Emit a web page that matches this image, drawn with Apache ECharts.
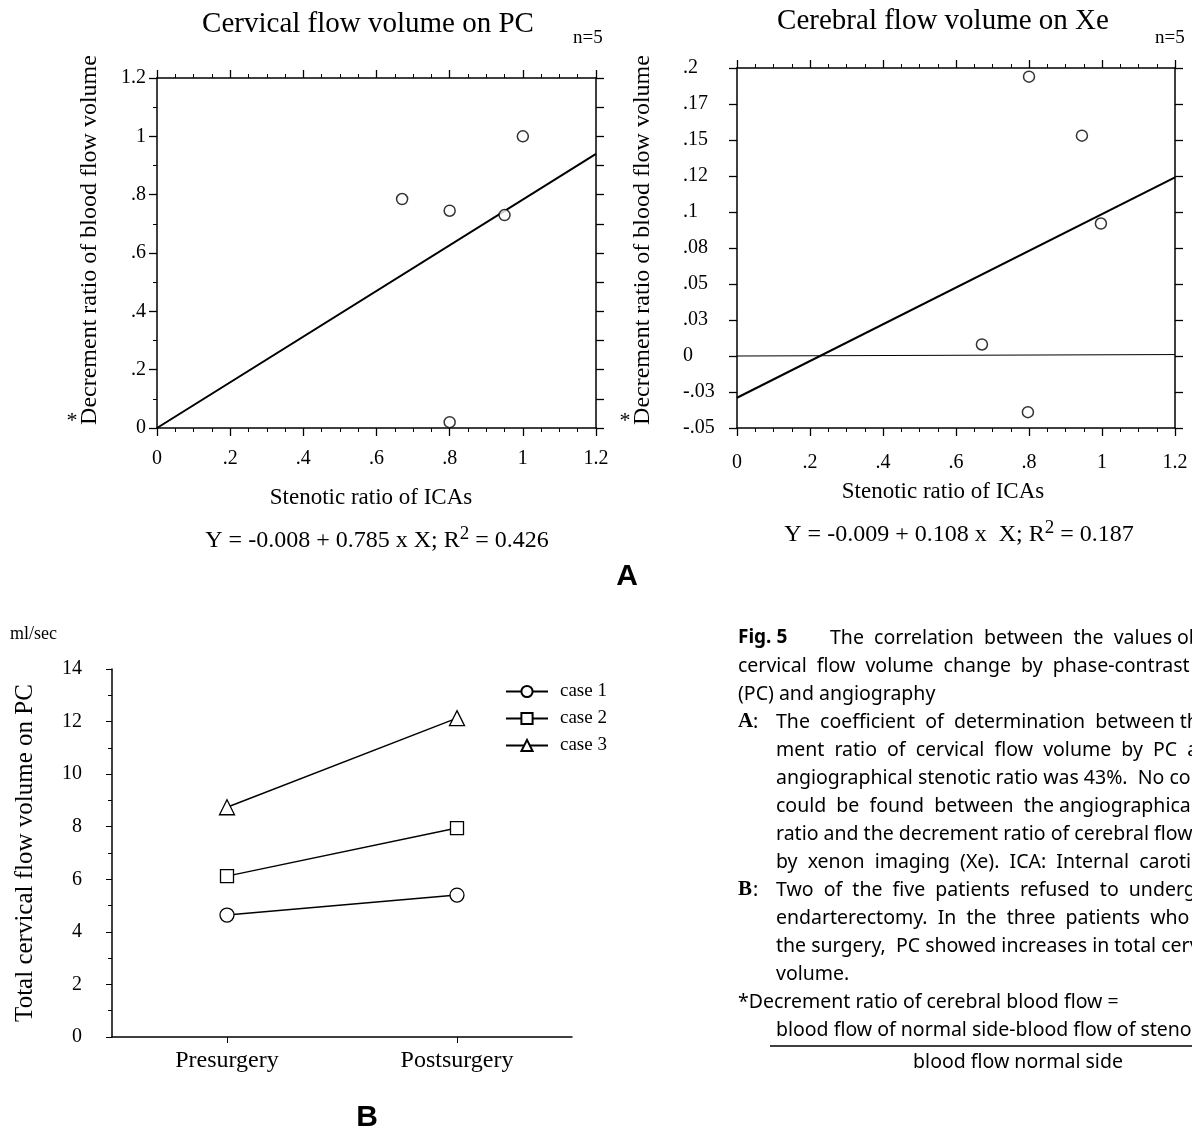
<!DOCTYPE html>
<html>
<head>
<meta charset="utf-8">
<script src="https://cdn.jsdelivr.net/npm/echarts@6/dist/echarts.min.js"></script>
<style>
  html, body { margin: 0; padding: 0; background: #fff; }
  #main { width: 1192px; height: 1135px; }
</style>
</head>
<body>
<div id="main"></div>
<script>
// panel A, left: cervical flow (PC) vs stenotic ratio
const stenosisPC = [0.67, 0.80, 0.95, 1.00, 0.80];
const decrementPC = [0.785, 0.745, 0.73, 1.0, 0.02];
const fitPC = [[0, 0], [1.2, 0.94]];

// panel A, right: cerebral flow (Xe) vs stenotic ratio
const stenosisXe = [0.80, 0.945, 0.997, 0.671, 0.797];
const decrementXe = [0.194, 0.153, 0.092, 0.008, -0.039];
const fitXe = [[0, -0.029], [1.2, 0.124]];
const zeroXe = [[0, 0], [1.2, 0.001]];

// tick labels
const ratioTicks = ['0', '.2', '.4', '.6', '.8', '1', '1.2'];
const pcTicks = ['0', '.2', '.4', '.6', '.8', '1', '1.2'];
const xeTicks = ['-.05', '-.03', '0', '.03', '.05', '.08', '.1', '.12', '.15', '.17', '.2'];

// panel B
const phases = ['Presurgery', 'Postsurgery'];
const caseNames = ['case 1', 'case 2', 'case 3'];
const case1 = [4.64, 5.4];
const case2 = [6.12, 7.95];
const case3 = [8.74, 12.13];

const SERIF = '"Liberation Serif", "DejaVu Serif", serif';
const SANS = '"Noto Sans", "Liberation Sans", sans-serif';

let chart = echarts.init(document.getElementById('main'));

let axisLine = { show: true, onZero: false, lineStyle: { color: '#000', width: 1.5 } };
let tick = { show: true, length: 8, lineStyle: { color: '#000', width: 1.3 } };
let minor = (n) => ({ show: true, splitNumber: n, length: 4, lineStyle: { color: '#000', width: 1 } });
let noSplit = { show: false };
let lbl = (fmt, margin, extra) =>
  Object.assign({ color: '#000', fontFamily: SERIF, fontSize: 20, margin, formatter: fmt }, extra || {});

let ratioAxis = (grid, pos, margin) => ({
  type: 'value', gridIndex: grid, position: pos, min: 0, max: 1.2, interval: 0.2,
  axisLine, axisTick: tick, minorTick: minor(4), splitLine: noSplit, minorSplitLine: noSplit,
  axisLabel: margin ? lbl((v) => ratioTicks[Math.round(v / 0.2)], margin) : { show: false },
});

let xAxis = [
  ratioAxis(0, 'bottom', 21),
  ratioAxis(0, 'top', 0),
  ratioAxis(1, 'bottom', 25),
  ratioAxis(1, 'top', 0),
  {
    type: 'category', gridIndex: 2, data: phases, axisLine,
    axisTick: { show: true, alignWithLabel: true, length: 6, lineStyle: { color: '#000' } },
    axisLabel: { color: '#000', fontFamily: SERIF, fontSize: 24, margin: 12 },
    splitLine: noSplit,
  },
];

let yAxis = [
  {
    type: 'value', gridIndex: 0, position: 'left', min: 0, max: 1.2, interval: 0.2,
    axisLine, axisTick: tick, minorTick: minor(2), splitLine: noSplit,
    axisLabel: lbl((v) => pcTicks[Math.round(v / 0.2)], 11),
  },
  {
    type: 'value', gridIndex: 0, position: 'right', min: 0, max: 1.2, interval: 0.1,
    axisLine, axisTick: tick, splitLine: noSplit, axisLabel: { show: false },
  },
  {
    type: 'value', gridIndex: 1, position: 'left', min: -0.05, max: 0.2, interval: 0.025,
    axisLine, axisTick: tick, splitLine: noSplit,
    axisLabel: lbl((v) => xeTicks[Math.round((v + 0.05) / 0.025)], 54, { align: 'left' }),
  },
  {
    type: 'value', gridIndex: 1, position: 'right', min: -0.05, max: 0.2, interval: 0.025,
    axisLine, axisTick: tick, splitLine: noSplit, axisLabel: { show: false },
  },
  {
    type: 'value', gridIndex: 2, min: 0, max: 14, interval: 2,
    axisLine, axisTick: { show: true, length: 6, lineStyle: { color: '#000' } },
    minorTick: minor(2), splitLine: noSplit,
    axisLabel: lbl(null, 30, { fontSize: 20 }),
  },
];

let hollow = { color: '#fff', borderColor: '#000', borderWidth: 1.5 };
let fitLine = (data, x, y, w) => ({
  type: 'line', xAxisIndex: x, yAxisIndex: y, data, symbol: 'none',
  lineStyle: { color: '#000', width: w }, silent: true, z: 1,
});
let caseLine = (name, data, symbol, size) => ({
  type: 'line', name, xAxisIndex: 4, yAxisIndex: 4, data, symbol, symbolSize: size,
  itemStyle: { color: '#fff', borderColor: '#000', borderWidth: 1.3 },
  lineStyle: { color: '#000', width: 1.4 },
});

let series = [
  fitLine(fitPC, 0, 0, 2),
  {
    type: 'scatter', xAxisIndex: 0, yAxisIndex: 0, symbol: 'circle', symbolSize: 11,
    itemStyle: hollow, z: 3,
    data: stenosisPC.map((x, i) => [x, decrementPC[i]]),
  },
  fitLine(zeroXe, 2, 2, 1),
  fitLine(fitXe, 2, 2, 2),
  {
    type: 'scatter', xAxisIndex: 2, yAxisIndex: 2, symbol: 'circle', symbolSize: 11,
    itemStyle: hollow, z: 3,
    data: stenosisXe.map((x, i) => [x, decrementXe[i]]),
  },
  caseLine(caseNames[0], case1, 'circle', 14),
  caseLine(caseNames[1], case2, 'rect', 13),
  caseLine(caseNames[2], case3, 'triangle', 15),
];

let txt = (x, y, text, font, align, extra) =>
  Object.assign({
    type: 'text', x, y, silent: true,
    style: { text, font, fill: '#000', textAlign: align || 'left', textVerticalAlign: 'middle' },
  }, extra || {});
let eq = (x, y, left, right) => ({
  type: 'text', x, y, silent: true,
  style: {
    text: left + '{sup|2}' + right, font: '24px ' + SERIF, fill: '#000',
    textAlign: 'center', textVerticalAlign: 'middle',
    rich: { sup: { fontSize: 19, fontFamily: 'Liberation Serif', verticalAlign: 'top', lineHeight: 32 } },
  },
});

let capFont = '19.5px ' + SANS;
let captionLeft = [
  [666, 'cervical  flow  volume  change  by  phase-contrast  MR'],
  [694, '(PC) and angiography'],
  [1002, '*Decrement ratio of cerebral blood flow ='],
];
let captionIndent = [
  [722, 'The  coefficient  of  determination  between the  decre-'],
  [750, 'ment  ratio  of  cervical  flow  volume  by  PC  and'],
  [778, 'angiographical stenotic ratio was 43%.  No correlation'],
  [806, 'could  be  found  between  the angiographical  stenotic'],
  [834, 'ratio and the decrement ratio of cerebral flow volume'],
  [862, 'by  xenon  imaging  (Xe).  ICA:  Internal  carotid  artery'],
  [890, 'Two  of  the  five  patients  refused  to  undergo  carotid'],
  [918, 'endarterectomy.  In  the  three  patients  who  underwent'],
  [946, 'the surgery,  PC showed increases in total cervical flow'],
  [974, 'volume.'],
  [1030, 'blood flow of normal side-blood flow of stenotic side'],
];

let graphic = [
  txt(368, 24, 'Cervical flow volume on PC', '29px ' + SERIF, 'center'),
  txt(573, 38, 'n=5', '19px ' + SERIF),
  txt(943, 21, 'Cerebral flow volume on Xe', '29px ' + SERIF, 'center'),
  txt(1155, 38, 'n=5', '19px ' + SERIF),
  txt(90, 240, 'Decrement ratio of blood flow volume', '24px ' + SERIF, 'center', { rotation: Math.PI / 2 }),
  txt(72, 421, '*', '22px ' + SERIF, 'center'),
  txt(643, 240, 'Decrement ratio of blood flow volume', '24px ' + SERIF, 'center', { rotation: Math.PI / 2 }),
  txt(625, 421, '*', '22px ' + SERIF, 'center'),
  txt(371, 498, 'Stenotic ratio of ICAs', '23px ' + SERIF, 'center'),
  txt(943, 492, 'Stenotic ratio of ICAs', '23px ' + SERIF, 'center'),
  eq(377, 541, 'Y = -0.008 + 0.785 x X; R', ' = 0.426'),
  eq(959, 535, 'Y = -0.009 + 0.108 x  X; R', ' = 0.187'),
  txt(627, 577, 'A', 'bold 30px "Liberation Sans", sans-serif', 'center'),
  txt(10, 634, 'ml/sec', '18px ' + SERIF),
  txt(25, 853, 'Total cervical flow volume on PC', '25px ' + SERIF, 'center', { rotation: Math.PI / 2 }),
  txt(367, 1118, 'B', 'bold 30px "Liberation Sans", sans-serif', 'center'),
  txt(738, 638, 'Fig. 5', 'bold 19px ' + SANS),
  txt(830, 638, 'The  correlation  between  the  values obtained  from', capFont),
  txt(738, 722, 'A', 'bold 21px ' + SERIF),
  txt(753, 722, ':', capFont),
  txt(738, 890, 'B', 'bold 21px ' + SERIF),
  txt(753, 890, ':', capFont),
  txt(1018, 1062, 'blood flow normal side', capFont, 'center'),
  {
    type: 'line', silent: true, shape: { x1: 770, y1: 1046, x2: 1192, y2: 1046 },
    style: { stroke: '#000', lineWidth: 1.5 },
  },
];
captionLeft.forEach(([y, t]) => graphic.push(txt(738, y, t, capFont)));
captionIndent.forEach(([y, t]) => graphic.push(txt(776, y, t, capFont)));

let options = {
  backgroundColor: '#ffffff',
  animation: false,
  grid: [
    { left: 157, top: 78, width: 439, height: 350 },
    { left: 737, top: 68, width: 438, height: 360 },
    { left: 112, top: 669, width: 460, height: 368 },
  ],
  legend: {
    data: caseNames, orient: 'vertical', left: 500, top: 677,
    itemWidth: 42, itemHeight: 14, itemGap: 8,
    textStyle: { color: '#000', fontFamily: SERIF, fontSize: 19, padding: [0, 0, 0, 7] },
  },
  xAxis,
  yAxis,
  series,
  graphic,
};

chart.setOption(options);
</script>
</body>
</html>
